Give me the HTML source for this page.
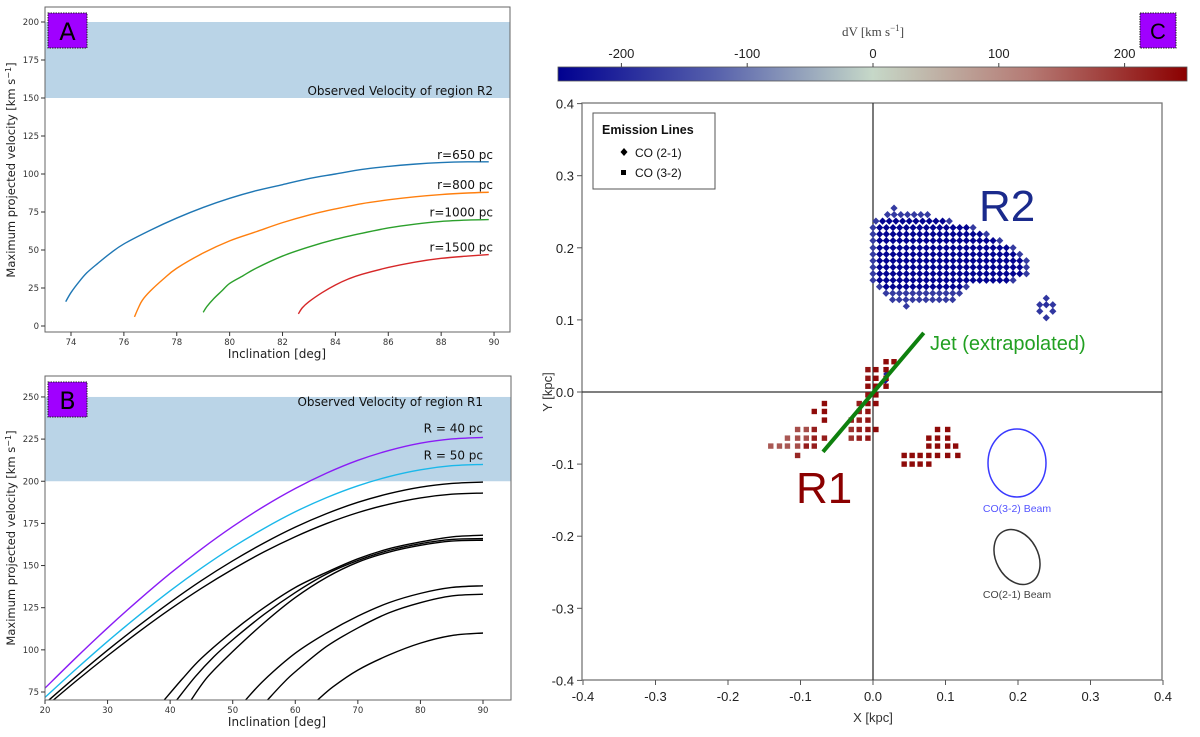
<!DOCTYPE html>
<html><head><meta charset="utf-8">
<style>
html,body{margin:0;padding:0;background:#fff;}
svg{display:block;}
.mpl{font-family:"DejaVu Sans","Liberation Sans",sans-serif;}
.hel{font-family:"Liberation Sans",sans-serif;}
</style></head>
<body>
<svg id="fig" width="1200" height="737" viewBox="0 0 1200 737" xmlns="http://www.w3.org/2000/svg">
<defs>
<clipPath id="clipA"><rect x="45" y="7" width="465" height="325"/></clipPath>
<clipPath id="clipB"><rect x="45" y="376" width="466" height="324"/></clipPath>
<linearGradient id="cmap" x1="0" x2="1" y1="0" y2="0">
<stop offset="0" stop-color="#000090"/><stop offset="0.25" stop-color="#5660ac"/>
<stop offset="0.5" stop-color="#c6d8c8"/><stop offset="0.75" stop-color="#b57a74"/>
<stop offset="1" stop-color="#8b0000"/></linearGradient>
</defs>
<g id="panelA"></g>
<g id="panelB"></g>
<g id="panelC"></g>
</svg>
<script>
// ---------- Panel A data ----------
const aXTicks=[74,76,78,80,82,84,86,88,90];
const aYTicks=[0,25,50,75,100,125,150,175,200];
const aLabels=["r=650 pc","r=800 pc","r=1000 pc","r=1500 pc"];
const aColors=["#1f77b4","#ff7f0e","#2ca02c","#d62728"];
const aBlueX=[73.8,74,74.3,74.6,75,75.5,76,77,78,79,80,81,82,83,84,85,86,87,88,89,89.8];
const aBlueY=[16,22,29,35,41,48,54,63,71,78,84,89,93,97,100,103,105,106.5,107.5,108,108];
const aOrangeX=[76.4,76.55,76.7,77,77.5,78,79,80,81,82,83,84,85,86,87,88,89,89.8];
const aOrangeY=[6,12,17,23,31,38,48,56,62,68,73,77,80.5,83,85,86.5,87.5,88];
const aGreenX=[79,79.15,79.4,79.7,80,80.5,81,82,83,84,85,86,87,88,89,89.8];
const aGreenY=[9,13,18,23,28,33,38,46,52,57,61,64.5,67,68.8,69.7,70];
const aRedX=[82.6,82.75,83,83.5,84,84.5,85,86,87,88,89,89.8];
const aRedY=[8,12,16,22,27,31,34,38.5,42,44.5,46,47];
const aBand=[150,200];
// ---------- Panel B data ----------
const bXTicks=[20,30,40,50,60,70,80,90];
const bYTicks=[75,100,125,150,175,200,225,250];
const bBand=[200,250];
const bUpX=[20,25,30,35,40,45,50,55,60,65,70,75,80,85,90];
const bPurpleY=[77.3,95.5,113,129.6,145.3,159.8,173.1,185.1,195.7,204.8,212.4,218.3,222.6,225.1,226];
const bCyanY=[71.8,88.7,105,120.4,135,148.5,160.9,172,181.9,190.3,197.3,202.8,206.8,209.2,210];
const bBlack1Y=[68.2,84.3,99.8,114.4,128.2,141.1,152.8,163.4,172.8,180.8,187.5,192.7,196.5,198.7,199.5];
const bBlack2Y=[66,81.6,96.5,110.7,124.1,136.5,147.8,158.1,167.1,174.9,181.4,186.4,190.1,192.3,193];
const bBlack3X=[39,42,45,50,55,60,65,70,75,80,85,90];
const bBlack3Y=[70,83,95,111,125,137,146,154,160,164,167,168];
const bBlack4X=[41,44,47,50,55,60,65,70,75,80,85,90];
const bBlack4Y=[70,84,96,106,121,134,145,153,159,163,165.5,166];
const bBlack5X=[43.3,46,50,55,60,65,70,75,80,85,90];
const bBlack5Y=[70,84,99,116,131,143,152,158,162,164.5,165];
const bBlack6X=[52,55,60,65,70,75,80,85,90];
const bBlack6Y=[70,82,98,110,120,128,133.5,137,138];
const bBlack7X=[55.5,58,60,65,70,75,80,85,90];
const bBlack7Y=[70,80,87,102,113,122,128,132,133];
const bBlack8X=[63.5,66,70,75,80,85,90];
const bBlack8Y=[70,78,88,97,104,108.5,110];
// ---------- Panel C data ----------
const cXTicks=[-0.4,-0.3,-0.2,-0.1,0.0,0.1,0.2,0.3,0.4];
const cYTicks=[-0.4,-0.3,-0.2,-0.1,0.0,0.1,0.2,0.3,0.4];
const cbTicks=[-200,-100,0,100,200];
const r2RowY=[0.255,0.246,0.237,0.228,0.219,0.210,0.200,0.191,0.182,0.173,0.164,0.155,0.146,0.137,0.128,0.119];
const r2XStart=[0.029,0.020,0.004,0.0,0.0,0.0,0.0,0.0,0.0,0.0,0.0,0.0,0.009,0.018,0.027,0.046];
const r2XEnd=[0.029,0.075,0.103,0.138,0.157,0.175,0.193,0.202,0.211,0.211,0.211,0.193,0.128,0.120,0.110,0.046];
const r2CoreDV=-245, r2EdgeDV=-175;
const r2bX=[0.239,0.230,0.248,0.239,0.230,0.248,0.239];
const r2bY=[0.130,0.121,0.121,0.121,0.112,0.112,0.103];
const r2bDV=[-180,-180,-180,-190,-180,-180,-180];
const r1X=[0.018,0.029,-0.007,0.004,0.018,-0.007,0.004,0.018,-0.007,0.004,0.018,-0.007,0.004,-0.067,-0.019,-0.007,0.004,-0.081,-0.067,-0.019,-0.007,-0.067,-0.030,-0.019,-0.007,-0.104,-0.092,-0.081,-0.030,-0.019,-0.007,0.004,0.089,0.103,-0.118,-0.104,-0.092,-0.081,-0.067,-0.030,-0.019,-0.007,0.077,0.089,0.103,-0.141,-0.129,-0.118,-0.104,-0.092,-0.081,0.077,0.089,0.103,0.114,-0.104,0.043,0.054,0.065,0.077,0.089,0.103,0.117,0.043,0.054,0.065,0.077];
const r1Y=[0.042,0.042,0.031,0.031,0.031,0.019,0.019,0.019,0.008,0.008,0.008,-0.004,-0.004,-0.016,-0.016,-0.016,-0.016,-0.027,-0.027,-0.027,-0.027,-0.039,-0.039,-0.039,-0.039,-0.052,-0.052,-0.052,-0.052,-0.052,-0.052,-0.052,-0.052,-0.052,-0.064,-0.064,-0.064,-0.064,-0.064,-0.064,-0.064,-0.064,-0.064,-0.064,-0.064,-0.075,-0.075,-0.075,-0.075,-0.075,-0.075,-0.075,-0.075,-0.075,-0.075,-0.088,-0.088,-0.088,-0.088,-0.088,-0.088,-0.088,-0.088,-0.100,-0.100,-0.100,-0.100];
const r1DV=[240,240,230,240,240,230,240,240,240,240,240,230,240,240,220,240,240,240,240,220,230,240,220,220,230,170,170,220,200,220,230,240,240,240,160,170,170,220,220,200,220,230,240,240,240,160,160,160,170,220,220,240,240,240,240,210,240,240,240,240,240,240,240,240,240,240,240];
const blueNearX=[0.019,0.017];
const blueNearY=[0.025,0.016];
const blueNearDV=[-200,-220];
const jetX=[-0.069,0.070];
const jetY=[-0.083,0.082];

const NS="http://www.w3.org/2000/svg";
function el(tag,attrs,parent,text){const e=document.createElementNS(NS,tag);for(const k in attrs)e.setAttribute(k,attrs[k]);if(text!==undefined)e.textContent=text;parent.appendChild(e);return e;}
function smooth(pts){let d="M"+pts[0][0].toFixed(2)+","+pts[0][1].toFixed(2);
 for(let i=0;i<pts.length-1;i++){const p0=pts[Math.max(i-1,0)],p1=pts[i],p2=pts[i+1],p3=pts[Math.min(i+2,pts.length-1)];
  const c1=[p1[0]+(p2[0]-p0[0])/6,p1[1]+(p2[1]-p0[1])/6],c2=[p2[0]-(p3[0]-p1[0])/6,p2[1]-(p3[1]-p1[1])/6];
  d+="C"+c1.map(v=>v.toFixed(2))+" "+c2.map(v=>v.toFixed(2))+" "+p2[0].toFixed(2)+","+p2[1].toFixed(2);}
 return d;}
function cmap(v){const stops=[[-250,[0,0,144]],[-125,[86,96,172]],[0,[198,216,200]],[125,[181,122,116]],[250,[139,0,0]]];
 v=Math.max(-250,Math.min(250,v));for(let i=0;i<4;i++){const a=stops[i],b=stops[i+1];if(v<=b[0]){const t=(v-a[0])/(b[0]-a[0]);return "rgb("+a[1].map((c,j)=>Math.round(c+(b[1][j]-c)*t)).join(",")+")";}}return "rgb(139,0,0)";}

// ================= PANEL A =================
(function(){
const g=document.getElementById('panelA');
const xA=v=>71+(v-74)*26.44, yA=v=>326-v*1.52;
const band=el('rect',{x:45,y:yA(aBand[1]),width:465,height:yA(aBand[0])-yA(aBand[1]),fill:'#bad4e7'},g);

const bl=el('text',{x:493,y:95,'text-anchor':'end','font-size':'12',fill:'#111',class:'mpl'},g,'Observed Velocity of region R2');

const xs=[aBlueX,aOrangeX,aGreenX,aRedX], ys=[aBlueY,aOrangeY,aGreenY,aRedY];
const cg=el('g',{'clip-path':'url(#clipA)'},g);
for(let i=0;i<4;i++){
 const p=el('path',{d:smooth(xs[i].map((x,j)=>[xA(x),yA(ys[i][j])])),fill:'none',stroke:aColors[i],'stroke-width':1.4},cg);
 
 const last=ys[i][ys[i].length-1];
 const t=el('text',{x:493,y:yA(last)-3,'text-anchor':'end','font-size':'12',fill:'#111',class:'mpl'},g,aLabels[i]);
 
}
const fr=el('rect',{x:45,y:7,width:465,height:325,fill:'none',stroke:'#666','stroke-width':1},g);

aXTicks.forEach(v=>{el('line',{x1:xA(v),x2:xA(v),y1:332,y2:336,stroke:'#333'},g);
 const t=el('text',{x:xA(v),y:345,'text-anchor':'middle','font-size':'8.5',fill:'#333',class:'mpl'},g,v);
 });
aYTicks.forEach(v=>{el('line',{x1:41,x2:45,y1:yA(v),y2:yA(v),stroke:'#333'},g);
 const t=el('text',{x:39,y:yA(v)+3,'text-anchor':'end','font-size':'8.5',fill:'#333',class:'mpl'},g,v);
 });
const xt=el('text',{x:277,y:358,'text-anchor':'middle','font-size':'12',fill:'#222',class:'mpl'},g,'Inclination [deg]');

const yt=el('text',{x:0,y:0,'text-anchor':'middle','font-size':'11.5',fill:'#222',class:'mpl',transform:'translate(15,170) rotate(-90)'},g);
yt.innerHTML='Maximum projected velocity [km s<tspan dy="-4" font-size="8">−1</tspan><tspan dy="4">]</tspan>';

const bd=el('g',{},g);
el('rect',{x:48,y:13,width:39,height:35,fill:'#a000ff',stroke:'#222','stroke-width':1,'stroke-dasharray':'1.5,1'},bd);
el('text',{x:67.5,y:40,'text-anchor':'middle','font-size':'24',fill:'#000',class:'mpl'},bd,'A');
})();

// ================= PANEL B =================
(function(){
const g=document.getElementById('panelB');
const xB=v=>45+(v-20)*6.257, yB=v=>692-(v-75)*1.686;
const band=el('rect',{x:45,y:yB(bBand[1]),width:466,height:yB(bBand[0])-yB(bBand[1]),fill:'#bad4e7'},g);

const bl=el('text',{x:483,y:406,'text-anchor':'end','font-size':'12',fill:'#111',class:'mpl'},g,'Observed Velocity of region R1');

const cg=el('g',{'clip-path':'url(#clipB)'},g);
const series=[[bUpX,bBlack1Y],[bUpX,bBlack2Y],[bBlack3X,bBlack3Y],[bBlack4X,bBlack4Y],[bBlack5X,bBlack5Y],[bBlack6X,bBlack6Y],[bBlack7X,bBlack7Y],[bBlack8X,bBlack8Y]];
series.forEach((s,i)=>{const p=el('path',{d:smooth(s[0].map((x,j)=>[xB(x),yB(s[1][j])])),fill:'none',stroke:'#000','stroke-width':1.4},cg);
 });
const pc=el('path',{d:smooth(bUpX.map((x,j)=>[xB(x),yB(bCyanY[j])])),fill:'none',stroke:'#1ab8ea','stroke-width':1.4},cg);

const pp=el('path',{d:smooth(bUpX.map((x,j)=>[xB(x),yB(bPurpleY[j])])),fill:'none',stroke:'#8a1cf5','stroke-width':1.4},cg);

const l1=el('text',{x:483,y:yB(bPurpleY[bPurpleY.length-1])-5,'text-anchor':'end','font-size':'12',fill:'#111',class:'mpl'},g,'R = 40 pc');

const l2=el('text',{x:483,y:yB(bCyanY[bCyanY.length-1])-5,'text-anchor':'end','font-size':'12',fill:'#111',class:'mpl'},g,'R = 50 pc');

const fr=el('rect',{x:45,y:376,width:466,height:324,fill:'none',stroke:'#666','stroke-width':1},g);

bXTicks.forEach(v=>{el('line',{x1:xB(v),x2:xB(v),y1:700,y2:704,stroke:'#333'},g);
 const t=el('text',{x:xB(v),y:713,'text-anchor':'middle','font-size':'8.5',fill:'#333',class:'mpl'},g,v);
 });
bYTicks.forEach(v=>{el('line',{x1:41,x2:45,y1:yB(v),y2:yB(v),stroke:'#333'},g);
 const t=el('text',{x:39,y:yB(v)+3,'text-anchor':'end','font-size':'8.5',fill:'#333',class:'mpl'},g,v);
 });
const xt=el('text',{x:277,y:726,'text-anchor':'middle','font-size':'12',fill:'#222',class:'mpl'},g,'Inclination [deg]');

const yt=el('text',{x:0,y:0,'text-anchor':'middle','font-size':'11.5',fill:'#222',class:'mpl',transform:'translate(15,538) rotate(-90)'},g);
yt.innerHTML='Maximum projected velocity [km s<tspan dy="-4" font-size="8">−1</tspan><tspan dy="4">]</tspan>';

const bd=el('g',{},g);
el('rect',{x:48,y:382,width:39,height:35,fill:'#a000ff',stroke:'#222','stroke-width':1,'stroke-dasharray':'1.5,1'},bd);
el('text',{x:67.5,y:409,'text-anchor':'middle','font-size':'24',fill:'#000',class:'mpl'},bd,'B');
})();

// ================= PANEL C =================
(function(){
const g=document.getElementById('panelC');
const xC=v=>873+v*725, yC=v=>392-v*721;
const cbX=v=>873+v*1.258;
const cb=el('rect',{x:558,y:67,width:629,height:14,fill:'url(#cmap)',stroke:'#555','stroke-width':0.8},g);

cbTicks.forEach(v=>{el('line',{x1:cbX(v),x2:cbX(v),y1:63,y2:67,stroke:'#444'},g);
 const t=el('text',{x:cbX(v),y:58,'text-anchor':'middle','font-size':'13',fill:'#222',class:'hel'},g,v);
 });
const cbl=el('text',{x:873,y:36,'text-anchor':'middle','font-size':'13',fill:'#444','font-family':'Liberation Serif, serif'},g);
cbl.innerHTML='dV [km s<tspan dy="-5" font-size="9">−1</tspan><tspan dy="5">]</tspan>';

const fr=el('rect',{x:582,y:103,width:580,height:577,fill:'none',stroke:'#777','stroke-width':1.3},g);

const zx=el('line',{x1:xC(0),x2:xC(0),y1:103,y2:680,stroke:'#333','stroke-width':1.3},g);

const zy=el('line',{x1:582,x2:1162,y1:yC(0),y2:yC(0),stroke:'#333','stroke-width':1.3},g);

cXTicks.forEach(v=>{el('line',{x1:xC(v),x2:xC(v),y1:680,y2:685,stroke:'#555'},g);
 const t=el('text',{x:xC(v),y:701,'text-anchor':'middle','font-size':'13',fill:'#222',class:'hel'},g,v.toFixed(1));
 });
cYTicks.forEach(v=>{el('line',{x1:577,x2:582,y1:yC(v),y2:yC(v),stroke:'#555'},g);
 const t=el('text',{x:574,y:yC(v)+5,'text-anchor':'end','font-size':'13',fill:'#222',class:'hel'},g,v.toFixed(1));
 });
const xt=el('text',{x:873,y:722,'text-anchor':'middle','font-size':'13',fill:'#333',class:'hel'},g,'X [kpc]');

const yt=el('text',{x:0,y:0,'text-anchor':'middle','font-size':'13',fill:'#333',class:'hel',transform:'translate(552,392) rotate(-90)'},g,'Y [kpc]');

const diam=(x,y,c,parent)=>{const px=xC(x),py=yC(y),s=3.6;
 const d=el('path',{d:`M${px},${py-s}L${px+s},${py}L${px},${py+s}L${px-s},${py}Z`,fill:c},parent);
 };
const r2g=el('g',{},g);
const step=0.0092;
r2RowY.forEach((y,i)=>{const n=Math.round((r2XEnd[i]-r2XStart[i])/step);
 for(let k=0;k<=n;k++){const x=r2XStart[i]+k*step;
  const edge=(k===0||k===n||i<=1||i>=r2RowY.length-3);
  diam(x,y,cmap(edge?r2EdgeDV:r2CoreDV),r2g);}});
r2bX.forEach((x,i)=>diam(x,r2bY[i],cmap(r2bDV[i]),r2g));
blueNearX.forEach((x,i)=>diam(x,blueNearY[i],cmap(blueNearDV[i]),r2g));
const r1g=el('g',{},g);
r1X.forEach((x,i)=>{const s=el('rect',{x:xC(x)-2.7,y:yC(r1Y[i])-2.7,width:5.4,height:5.4,fill:cmap(r1DV[i])},r1g);
 });
const jet=el('line',{x1:xC(jetX[0]),y1:yC(jetY[0]),x2:xC(jetX[1]),y2:yC(jetY[1]),stroke:'#0e800e','stroke-width':4},g);

const jl=el('text',{x:930,y:350,'font-size':'20',fill:'#22a022',class:'hel'},g,'Jet (extrapolated)');

const r2t=el('text',{x:979,y:221,'font-size':'44',fill:'#1a2a8c',class:'hel'},g,'R2');

const r1t=el('text',{x:796,y:503,'font-size':'44',fill:'#8b0000',class:'hel'},g,'R1');

const be1=el('ellipse',{cx:1017,cy:463,rx:29,ry:34,fill:'none',stroke:'#3a3aff','stroke-width':1.5},g);

const bt1=el('text',{x:1017,y:512,'text-anchor':'middle','font-size':'10.5',fill:'#5555ff',class:'hel'},g,'CO(3-2) Beam');

const be2=el('ellipse',{cx:1017,cy:557,rx:21,ry:29,fill:'none',stroke:'#333','stroke-width':1.5,transform:'rotate(-28 1017 557)'},g);

const bt2=el('text',{x:1017,y:598,'text-anchor':'middle','font-size':'10.5',fill:'#444',class:'hel'},g,'CO(2-1) Beam');

const lg=el('g',{},g);
el('rect',{x:593,y:113,width:122,height:76,fill:'#fff',stroke:'#555','stroke-width':1},lg);
el('text',{x:602,y:134,'font-size':'12.5','font-weight':'bold',fill:'#111',class:'hel'},lg,'Emission Lines');
el('path',{d:'M624,148L627.5,152L624,156L620.5,152Z',fill:'#000'},lg);
const le1=el('text',{x:635,y:157,'font-size':'12',fill:'#111',class:'hel'},lg,'CO (2-1)');

el('rect',{x:621,y:170,width:5,height:5,fill:'#000'},lg);
const le2=el('text',{x:635,y:177,'font-size':'12',fill:'#111',class:'hel'},lg,'CO (3-2)');

const bd=el('g',{},g);
el('rect',{x:1140,y:13,width:36,height:35,fill:'#a000ff',stroke:'#222','stroke-width':1,'stroke-dasharray':'1.5,1'},bd);
el('text',{x:1158,y:39,'text-anchor':'middle','font-size':'22',fill:'#000',class:'hel'},bd,'C');
})();
</script>
</body></html>
